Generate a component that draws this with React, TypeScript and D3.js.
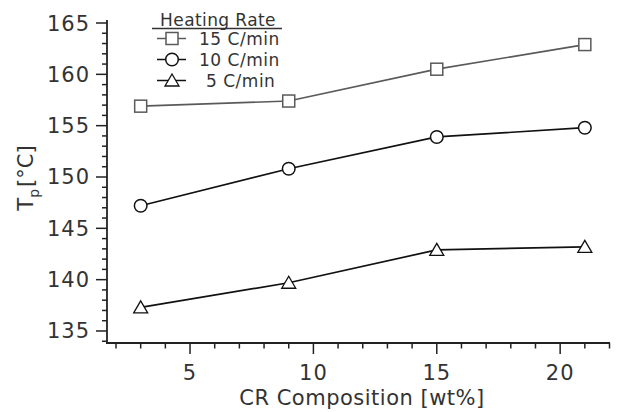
import React from "react";
import * as d3 from "d3";

const compositions = [3, 9, 15, 21];
const seriesNames = ["15 C/min", "10 C/min", "5 C/min"];
const rate15 = [156.9, 157.4, 160.5, 162.9];
const rate10 = [147.2, 150.8, 153.9, 154.8];
const rate5 = [137.3, 139.7, 142.9, 143.2];
const xTicks = [5, 10, 15, 20];
const yTicks = [135, 140, 145, 150, 155, 160, 165];
const legendTitle = "Heating Rate";
const xTitle = "CR Composition [wt%]";

const W = 620, H = 412;
const font = "DejaVu Sans, sans-serif";

export default function App() {
  const x = d3.scaleLinear().domain([1.635, 22.02]).range([107, 610]);
  const y = d3.scaleLinear().domain([133.83, 165]).range([343, 23]);
  const line = d3.line<number>().x((_, i) => x(compositions[i])).y((d) => y(d));
  const series = [
    { name: seriesNames[0], vals: rate15, color: "#5a5a5a", marker: "square" },
    { name: seriesNames[1], vals: rate10, color: "#111", marker: "circle" },
    { name: seriesNames[2], vals: rate5, color: "#111", marker: "triangle" },
  ];
  const marker = (m: string, cx: number, cy: number, color: string, key: any) => {
    if (m === "square")
      return <rect key={key} x={cx - 6} y={cy - 6} width={12} height={12} fill="white" stroke={color} strokeWidth={1.5} />;
    if (m === "circle")
      return <circle key={key} cx={cx} cy={cy} r={6.3} fill="white" stroke={color} strokeWidth={1.5} />;
    return <path key={key} d={`M${cx},${cy - 6.5}L${cx + 7},${cy + 5.5}L${cx - 7},${cy + 5.5}Z`} fill="white" stroke={color} strokeWidth={1.3} />;
  };
  const xMinor = d3.range(2, 23).filter((v) => x(v) <= 610.5);
  const yMinor = d3.range(134, 166);
  return (
    <svg width={W} height={H} style={{ position: "absolute", left: 0, top: 0, background: "white" }}>
      {/* axes */}
      <line x1={107} y1={20} x2={107} y2={343} stroke="#222" strokeWidth={1.8} />
      <line x1={106} y1={343} x2={610} y2={343} stroke="#222" strokeWidth={1.8} />
      {yMinor.map((v) => (
        <line key={"ym" + v} x1={v % 5 === 0 ? 96 : 102} x2={107} y1={y(v)} y2={y(v)} stroke="#222" strokeWidth={1.5} />
      ))}
      {xMinor.map((v) => (
        <line key={"xm" + v} x1={x(v)} x2={x(v)} y1={343} y2={v % 5 === 0 ? 354 : 348.5} stroke="#222" strokeWidth={1.5} />
      ))}
      {yTicks.map((v) => (
        <text key={"yl" + v} x={90} y={y(v) + 7.5} textAnchor="end" fontFamily={font} fontSize={21} fill="#333" letterSpacing={1}>{v}</text>
      ))}
      {xTicks.map((v) => (
        <text key={"xl" + v} x={x(v)} y={380} textAnchor="middle" fontFamily={font} fontSize={21} fill="#333" letterSpacing={1}>{v}</text>
      ))}
      <text x={362} y={405} textAnchor="middle" fontFamily={font} fontSize={21} fill="#333" letterSpacing={0.5}>{xTitle}</text>
      <text transform="translate(33,178) rotate(-90)" textAnchor="middle" fontFamily={font} fontSize={21} fill="#333">
        T<tspan fontSize={14} dy={6}>p</tspan><tspan dy={-6} dx={2}>[°C]</tspan>
      </text>
      {/* series */}
      {series.map((s, si) => (
        <g key={s.name}>
          <path d={line(s.vals) || ""} fill="none" stroke={s.color} strokeWidth={1.7} />
          {s.vals.map((v, i) => marker(s.marker, x(compositions[i]), y(v), s.color, si + "-" + i))}
        </g>
      ))}
      {/* legend */}
      <text x={218} y={26} textAnchor="middle" fontFamily={font} fontSize={17} fill="#333" letterSpacing={0.4}>{legendTitle}</text>
      <line x1={152} x2={282} y1={28.5} y2={28.5} stroke="#333" strokeWidth={1.3} />
      {series.map((s, i) => {
        const ly = 38.5 + i * 21;
        return (
          <g key={"lg" + i}>
            <line x1={157} x2={186} y1={ly} y2={ly} stroke={s.color} strokeWidth={1.5} />
            {marker(s.marker, 172, ly, s.color, "lm" + i)}
            <text x={i === 2 ? 206 : 199} y={ly + 6} fontFamily={font} fontSize={17} fill="#333" letterSpacing={0.5}>{s.name}</text>
          </g>
        );
      })}
    </svg>
  );
}
